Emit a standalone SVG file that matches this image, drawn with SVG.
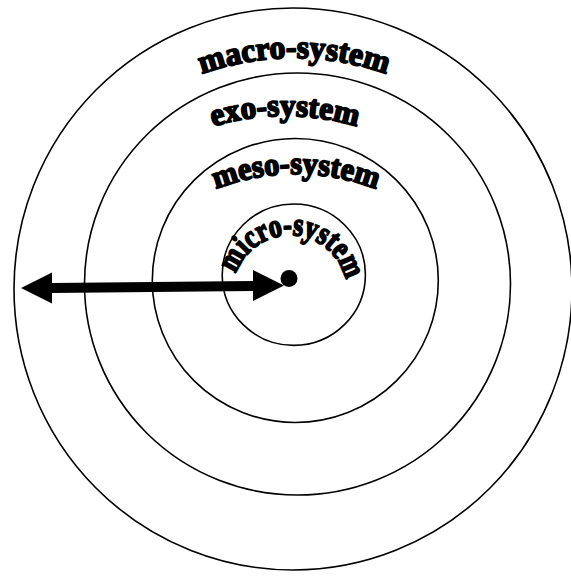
<svg xmlns="http://www.w3.org/2000/svg" width="571" height="577" viewBox="0 0 571 577">
<style>
.ring{fill:none;stroke:#000;stroke-width:1.6}
.lbl{font-family:"Liberation Serif","Times New Roman",serif;font-weight:bold;fill:#000;stroke:#000;stroke-width:1.8;stroke-linejoin:round}
</style>
<defs>
<path id="pMacro" d="M 202 74 A 272 272 0 0 1 386 74"/>
<path id="pExo" d="M 213 126.5 A 252 252 0 0 1 357 126.5"/>
<path id="pMeso" d="M 216 189 A 221 221 0 0 1 376 189"/>
<path id="pMicro" d="M 236 274 A 57 57 0 0 1 344 274"/>
</defs>
<rect width="571" height="577" fill="#fff"/>
<g id="macro">
<ellipse class="ring" cx="293" cy="289" rx="279" ry="281"/>
<text class="lbl" font-size="33" textLength="188" lengthAdjust="spacingAndGlyphs"><textPath href="#pMacro">macro-system</textPath></text>
</g>
<g id="exo">
<ellipse class="ring" cx="297.5" cy="284" rx="213" ry="211"/>
<text class="lbl" font-size="32" textLength="146" lengthAdjust="spacingAndGlyphs"><textPath href="#pExo">exo-system</textPath></text>
</g>
<g id="meso">
<ellipse class="ring" cx="295.3" cy="280.5" rx="143" ry="142"/>
<text class="lbl" font-size="32" textLength="164" lengthAdjust="spacingAndGlyphs"><textPath href="#pMeso">meso-system</textPath></text>
</g>
<g id="micro">
<ellipse class="ring" cx="293.8" cy="274.7" rx="71.6" ry="70.7"/>
<text class="lbl" font-size="33" textLength="148" lengthAdjust="spacingAndGlyphs"><textPath href="#pMicro">micro-system</textPath></text>
</g>
<g id="center">
<circle cx="289" cy="278.5" r="8.5" fill="#000"/>
</g>
<g id="connectors">
<polygon fill="#000" points="21,288 52,272.5 52,283 253,281 253,270 284,285.5 253,301 253,291 52,293 52,303.5"/>
</g>
</svg>
